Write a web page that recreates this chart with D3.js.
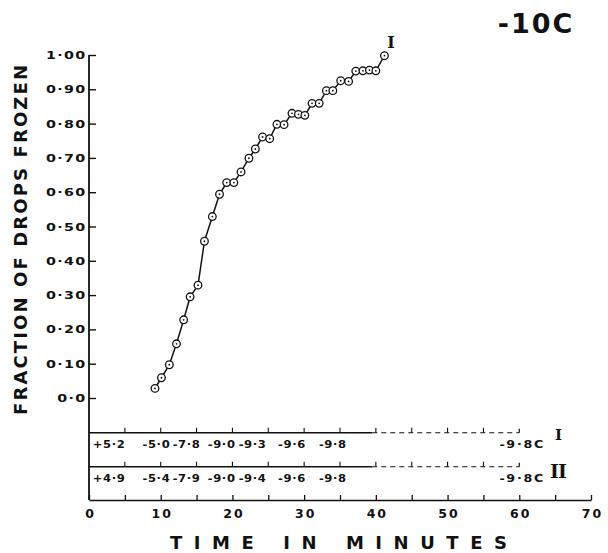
<!DOCTYPE html>
<html>
<head>
<meta charset="utf-8">
<title>Fraction of drops frozen, -10C</title>
<script src="https://d3js.org/d3.v7.min.js"></script>
<style>
  body { margin: 0; background: #fff; }
  svg text { fill: #111; }
</style>
</head>
<body>
<div id="chart"></div>
<script>
// time (minutes) of each reading and the fraction of drops frozen
var times = [9.2, 10.1, 11.2, 12.2, 13.2, 14.1, 15.2, 16.1, 17.2, 18.2, 19.2, 20.2, 21.2,
             22.3, 23.2, 24.2, 25.2, 26.2, 27.2, 28.3, 29.2, 30.1, 31.1, 32.1, 33.1, 34.0,
             35.1, 36.2, 37.2, 38.2, 39.1, 40.0, 41.2];
var fractions = [0.028, 0.059, 0.097, 0.158, 0.228, 0.295, 0.329, 0.457, 0.529, 0.594, 0.628,
                 0.628, 0.659, 0.699, 0.726, 0.761, 0.756, 0.798, 0.797, 0.830, 0.827, 0.824,
                 0.859, 0.859, 0.896, 0.896, 0.925, 0.923, 0.953, 0.954, 0.956, 0.954, 0.998];

var yTicks = [0, 0.1, 0.2, 0.3, 0.4, 0.5, 0.6, 0.7, 0.8, 0.9, 1.0];
var yTickLabels = ["0·0", "0·10", "0·20", "0·30", "0·40", "0·50", "0·60", "0·70", "0·80", "0·90", "1·00"];
var xTicks = [0, 5, 10, 15, 20, 25, 30, 35, 40, 45, 50, 55, 60, 65, 70];

// temperature record strips (I and II)
var tempTimes = [2.8, 9.4, 13.6, 18.5, 22.8, 28.3, 34.0];
var tempsI = ["+5·2", "-5·0", "-7·8", "-9·0", "-9·3", "-9·6", "-9·8"];
var tempsII = ["+4·9", "-5·4", "-7·9", "-9·0", "-9·4", "-9·6", "-9·8"];
var stripNames = ["I", "II"];
var stripEnd = 60;        // record runs to 60 min
var solidEnd = 39.5;      // solid until here, dashed after
var endTemp = "-9·8C";

var width = 608, height = 553;
var sans = "'DejaVu Sans', sans-serif";
var serif = "'DejaVu Serif', 'Liberation Serif', serif";

var svg = d3.select("#chart").append("svg")
    .attr("width", width)
    .attr("height", height)
    .style("font-family", sans);

var x = d3.scaleLinear().domain([0, 70]).range([89, 591]);
var y = d3.scaleLinear().domain([0, 1]).range([398, 55]);

var stripY = [432.7, 466.7];
var axisY = 500;

// left vertical line runs all the way down to the time axis
svg.append("line")
    .attr("x1", x(0)).attr("x2", x(0))
    .attr("y1", y(1)).attr("y2", axisY)
    .attr("stroke", "#111").attr("stroke-width", 1.8);

// Y axis, ticks pointing inward
var yAxis = svg.append("g")
    .attr("transform", "translate(" + x(0) + ",0)")
    .call(d3.axisLeft(y)
        .tickValues(yTicks)
        .tickSizeInner(-7)
        .tickSizeOuter(0)
        .tickPadding(2)
        .tickFormat(function(d, i) { return yTickLabels[i]; }));
yAxis.select(".domain").remove();
yAxis.selectAll(".tick line").attr("stroke", "#111").attr("stroke-width", 1.4);
yAxis.selectAll(".tick text")
    .attr("transform", "scale(1.3,1)")
    .style("font-family", sans)
    .style("font-size", "11px")
    .style("font-weight", "bold")
    .style("letter-spacing", "1px");

// X axis, ticks pointing up
var xAxis = svg.append("g")
    .attr("transform", "translate(0," + axisY + ")")
    .call(d3.axisBottom(x)
        .tickValues(xTicks)
        .tickSizeInner(-5)
        .tickSizeOuter(0)
        .tickPadding(9)
        .tickFormat(function(d) { return d % 10 === 0 ? d : ""; }));
xAxis.select(".domain").attr("stroke", "#111").attr("stroke-width", 1.6);
xAxis.selectAll(".tick line").attr("stroke", "#111").attr("stroke-width", 1.3);
xAxis.selectAll(".tick text")
    .attr("dx", "1px")
    .style("font-family", sans)
    .style("font-size", "12.5px")
    .style("font-weight", "bold")
    .style("letter-spacing", "2px");

// temperature strips
var strips = [tempsI, tempsII];
strips.forEach(function(temps, k) {
    var sy = stripY[k];
    var g = svg.append("g");
    g.append("line")
        .attr("x1", x(0)).attr("x2", x(solidEnd))
        .attr("y1", sy).attr("y2", sy)
        .attr("stroke", "#111").attr("stroke-width", 1.5);
    g.append("line")
        .attr("x1", x(solidEnd)).attr("x2", x(stripEnd))
        .attr("y1", sy).attr("y2", sy)
        .attr("stroke", "#111").attr("stroke-width", 1.1)
        .attr("stroke-dasharray", "5,4");
    g.append("line")
        .attr("x1", x(stripEnd)).attr("x2", x(stripEnd))
        .attr("y1", sy).attr("y2", sy - 4)
        .attr("stroke", "#111").attr("stroke-width", 1.2);
    g.selectAll("line.tk")
        .data(xTicks.filter(function(t) { return t > 0 && t < stripEnd; }))
        .enter().append("line")
        .attr("class", "tk")
        .attr("x1", function(d) { return x(d); })
        .attr("x2", function(d) { return x(d); })
        .attr("y1", sy).attr("y2", sy - 5)
        .attr("stroke", "#111").attr("stroke-width", 1.1);
    g.selectAll("text.tmp")
        .data(temps)
        .enter().append("text")
        .attr("class", "tmp")
        .attr("transform", function(d, i) {
            return "translate(" + x(tempTimes[i]) + "," + (sy + 15) + ") scale(1.05,1)";
        })
        .attr("text-anchor", "middle")
        .style("font-size", "11px")
        .style("font-weight", "bold")
        .style("letter-spacing", "0.6px")
        .text(function(d) { return d; });
    g.append("text")
        .attr("transform", "translate(" + x(60.4) + "," + (sy + 15) + ") scale(1.15,1)")
        .attr("text-anchor", "middle")
        .style("font-size", "11px")
        .style("font-weight", "bold")
        .style("letter-spacing", "1.5px")
        .text(endTemp);
    g.append("text")
        .attr("x", x(65.4))
        .attr("y", sy + (k === 0 ? 7 : 11))
        .attr("text-anchor", "middle")
        .style("font-family", serif)
        .style("font-weight", "bold")
        .style("font-size", k === 0 ? "15px" : "19px")
        .style("letter-spacing", "-1px")
        .text(stripNames[k]);
});

// the curve
var line = d3.line()
    .x(function(d, i) { return x(times[i]); })
    .y(function(d) { return y(d); });

svg.append("path")
    .datum(fractions)
    .attr("fill", "none")
    .attr("stroke", "#111")
    .attr("stroke-width", 1.5)
    .attr("d", line);

var pts = svg.selectAll("g.pt")
    .data(fractions)
    .enter().append("g")
    .attr("class", "pt")
    .attr("transform", function(d, i) { return "translate(" + x(times[i]) + "," + y(d) + ")"; });
pts.append("circle")
    .attr("r", 3.8)
    .attr("fill", "#fff")
    .attr("stroke", "#111")
    .attr("stroke-width", 1.3);
pts.append("circle")
    .attr("r", 0.9)
    .attr("fill", "#111");

// curve label
svg.append("text")
    .attr("x", x(42.1))
    .attr("y", 48)
    .attr("text-anchor", "middle")
    .style("font-family", serif)
    .style("font-weight", "bold")
    .style("font-size", "16px")
    .text("I");

// temperature of the run
svg.append("text")
    .attr("x", 536)
    .attr("y", 33)
    .attr("text-anchor", "middle")
    .style("font-size", "27px")
    .style("font-weight", "bold")
    .style("letter-spacing", "2px")
    .text("-10C");

// axis titles
svg.append("text")
    .attr("x", 170)
    .attr("y", 549)
    .attr("textLength", 337)
    .attr("lengthAdjust", "spacing")
    .style("font-size", "18px")
    .style("font-weight", "bold")
    .text("TIME  IN  MINUTES");

svg.append("text")
    .attr("transform", "translate(27,415) rotate(-90)")
    .attr("textLength", 350)
    .attr("lengthAdjust", "spacing")
    .style("font-size", "18px")
    .style("font-weight", "bold")
    .text("FRACTION OF DROPS FROZEN");
</script>
</body>
</html>
